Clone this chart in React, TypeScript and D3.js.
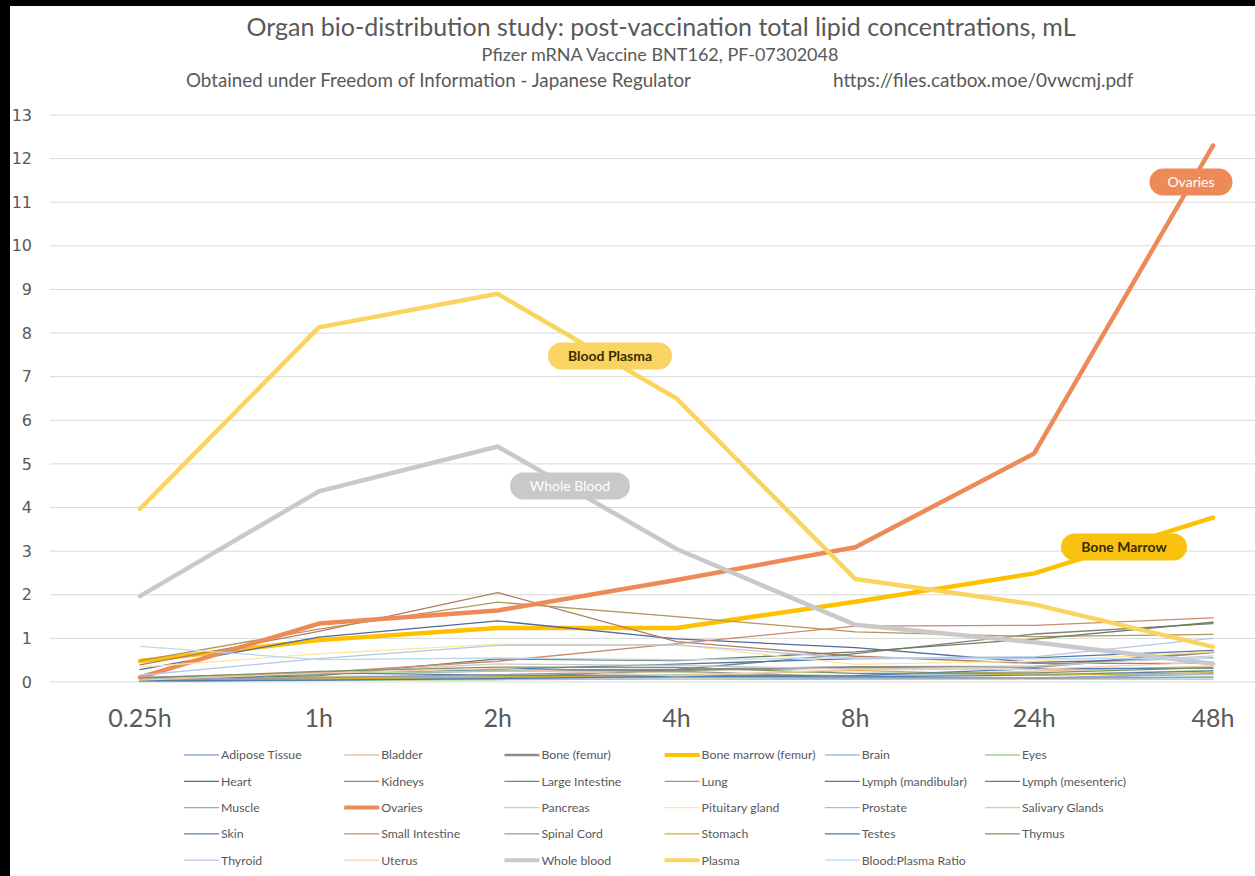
import React from 'react';
import * as d3 from 'd3';

const categories = ['0.25h', '1h', '2h', '4h', '8h', '24h', '48h'];

const adiposeTissue = [0.057, 0.1, 0.126, 0.128, 0.093, 0.084, 0.181];
const bladder = [0.041, 0.13, 0.146, 0.167, 0.148, 0.247, 0.365];
const boneFemur = [0.091, 0.195, 0.266, 0.276, 0.34, 0.342, 0.687];
const boneMarrow = [0.479, 0.96, 1.24, 1.24, 1.84, 2.49, 3.77];
const brain = [0.045, 0.1, 0.138, 0.115, 0.073, 0.069, 0.068];
const eyes = [0.01, 0.035, 0.052, 0.067, 0.059, 0.091, 0.112];
const heart = [0.282, 1.03, 1.4, 0.987, 0.79, 0.451, 0.546];
const kidneys = [0.391, 1.16, 2.05, 0.924, 0.59, 0.426, 0.425];
const largeIntestine = [0.013, 0.048, 0.093, 0.287, 0.649, 1.1, 1.34];
const lung = [0.492, 1.21, 1.83, 1.5, 1.15, 1.04, 1.09];
const lymphMandibular = [0.064, 0.189, 0.29, 0.408, 0.534, 0.554, 0.727];
const lymphMesenteric = [0.05, 0.146, 0.53, 0.489, 0.689, 0.985, 1.37];
const muscle = [0.021, 0.061, 0.084, 0.103, 0.096, 0.095, 0.192];
const ovaries = [0.104, 1.34, 1.64, 2.34, 3.09, 5.24, 12.3];
const pancreas = [0.081, 0.207, 0.414, 0.38, 0.294, 0.358, 0.599];
const pituitaryGland = [0.339, 0.645, 0.868, 0.854, 0.405, 0.478, 0.694];
const prostate = [0.061, 0.091, 0.128, 0.157, 0.15, 0.183, 0.17];
const salivaryGlands = [0.084, 0.193, 0.255, 0.22, 0.135, 0.17, 0.264];
const skin = [0.013, 0.208, 0.159, 0.145, 0.119, 0.157, 0.253];
const smallIntestine = [0.03, 0.221, 0.476, 0.879, 1.28, 1.3, 1.47];
const spinalCord = [0.043, 0.097, 0.169, 0.25, 0.106, 0.085, 0.112];
const stomach = [0.017, 0.065, 0.115, 0.144, 0.268, 0.152, 0.215];
const testes = [0.031, 0.042, 0.079, 0.129, 0.146, 0.304, 0.32];
const thymus = [0.088, 0.243, 0.34, 0.335, 0.196, 0.207, 0.331];
const thyroid = [0.155, 0.536, 0.842, 0.851, 0.544, 0.578, 1.0];
const uterus = [0.043, 0.203, 0.305, 0.14, 0.287, 0.289, 0.456];
const wholeBlood = [1.97, 4.37, 5.4, 3.05, 1.31, 0.909, 0.42];
const plasma = [3.97, 8.13, 8.9, 6.5, 2.36, 1.78, 0.805];
const bloodPlasmaRatio = [0.815, 0.515, 0.55, 0.51, 0.555, 0.53, 0.54];

const seriesNames = [
  'Adipose Tissue', 'Bladder', 'Bone (femur)', 'Bone marrow (femur)', 'Brain', 'Eyes',
  'Heart', 'Kidneys', 'Large Intestine', 'Lung', 'Lymph (mandibular)', 'Lymph (mesenteric)',
  'Muscle', 'Ovaries', 'Pancreas', 'Pituitary gland', 'Prostate', 'Salivary Glands',
  'Skin', 'Small Intestine', 'Spinal Cord', 'Stomach', 'Testes', 'Thymus',
  'Thyroid', 'Uterus', 'Whole blood', 'Plasma', 'Blood:Plasma Ratio',
];
const seriesValues = [
  adiposeTissue, bladder, boneFemur, boneMarrow, brain, eyes,
  heart, kidneys, largeIntestine, lung, lymphMandibular, lymphMesenteric,
  muscle, ovaries, pancreas, pituitaryGland, prostate, salivaryGlands,
  skin, smallIntestine, spinalCord, stomach, testes, thymus,
  thyroid, uterus, wholeBlood, plasma, bloodPlasmaRatio,
];
const yTicks = d3.range(0, 14);

const annotations = [
  { text: 'Ovaries', cx: 1191, cy: 182, w: 83, fill: '#EE8A58', color: '#ffffff', weight: 400 },
  { text: 'Blood Plasma', cx: 610, cy: 356, w: 124, fill: '#FAD463', color: '#3A2E00', weight: 700 },
  { text: 'Whole Blood', cx: 570, cy: 486, w: 120, fill: '#C9C9C9', color: '#ffffff', weight: 400 },
  { text: 'Bone Marrow', cx: 1124, cy: 547, w: 126, fill: '#F9C20F', color: '#3A2B00', weight: 700 },
];

const seriesColors = [
  '#8EA9DB', '#EBC39F', '#8C8C8C', '#FFC000', '#9DC3E6', '#A9D18E',
  '#52699A', '#B07D62', '#7F7F7F', '#B0985A', '#4F79A8', '#6B7F5A',
  '#8FAADC', '#EE8A58', '#C9C9C9', '#FFE699', '#9DC3E6', '#B9D8A4',
  '#5B7CB5', '#C98B6B', '#9A9A9A', '#D6AD2E', '#4B7DB0', '#7C9260',
  '#B4C7E7', '#F6CBAD', '#C9C9C9', '#F9D45E', '#BDD7EE',
];
const seriesWidths = [
  1.3, 1.3, 2.5, 4.5, 1.3, 1.3,
  1.3, 1.3, 1.3, 1.3, 1.3, 1.3,
  1.3, 4.5, 1.3, 1.3, 1.3, 1.3,
  1.3, 1.3, 1.3, 1.3, 1.3, 1.3,
  1.3, 1.3, 4.5, 4.5, 1.3,
];

export default function App() {
  const W = 1255;
  const H = 876;
  const x = d3.scalePoint<string>().domain(categories).range([140, 1213]);
  const y = d3.scaleLinear().domain([0, 13]).range([682, 115]);
  const line = d3
    .line<number>()
    .x((_, i) => x(categories[i]) as number)
    .y((d) => y(d));

  const legendCols = 6;
  const legendX0 = 221;
  const legendDX = 160.2;
  const legendY0 = 755;
  const legendDY = 26.3;
  const gray = '#595959';
  const font = 'Lato, "Open Sans", sans-serif';

  return (
    <svg
      width={W}
      height={H}
      style={{ position: 'absolute', left: 0, top: 0, display: 'block' }}
    >
      <rect x={0} y={0} width={W} height={H} fill="#000" />
      <rect x={10} y={6} width={W - 10} height={H - 6} fill="#fff" />

      <text x={661} y={36} textAnchor="middle" fontFamily={font} fontSize={25} fill={gray}>
        Organ bio-distribution study: post-vaccination total lipid concentrations, mL
      </text>
      <text x={660} y={61} textAnchor="middle" fontFamily={font} fontSize={18} fill={gray}>
        Pfizer mRNA Vaccine BNT162, PF-07302048
      </text>
      <text x={186} y={87} fontFamily={font} fontSize={18.8} fill={gray}>
        Obtained under Freedom of Information - Japanese Regulator
      </text>
      <text x={833} y={87} fontFamily={font} fontSize={19} fill={gray}>
        https://files.catbox.moe/0vwcmj.pdf
      </text>

      {yTicks.map((t) => (
        <g key={t}>
          <line x1={50} x2={W} y1={y(t)} y2={y(t)} stroke="#D9D9D9" strokeWidth={1} />
          <text
            x={32}
            y={y(t)}
            dy="0.35em"
            textAnchor="end"
            fontFamily='"DejaVu Sans", Verdana, sans-serif'
            fontSize={16}
            fill={gray}
          >
            {t}
          </text>
        </g>
      ))}

      {categories.map((c) => (
        <text
          key={c}
          x={x(c) as number}
          y={727}
          textAnchor="middle"
          fontFamily={font}
          fontSize={25}
          fill={gray}
        >
          {c}
        </text>
      ))}

      {seriesValues.map((vals, i) => (
        <path
          key={seriesNames[i]}
          d={line(vals) || ''}
          fill="none"
          stroke={seriesColors[i]}
          strokeWidth={seriesWidths[i]}
          strokeLinejoin="round"
          strokeLinecap="round"
        />
      ))}

      {annotations.map((a) => (
        <g key={a.text}>
          <rect
            x={a.cx - a.w / 2}
            y={a.cy - 13.5}
            width={a.w}
            height={27}
            rx={13.5}
            fill={a.fill}
          />
          <text
            x={a.cx}
            y={a.cy}
            dy="0.35em"
            textAnchor="middle"
            fontFamily={font}
            fontSize={14}
            fontWeight={a.weight}
            fill={a.color}
          >
            {a.text}
          </text>
        </g>
      ))}

      {seriesNames.map((name, i) => {
        const col = i % legendCols;
        const row = Math.floor(i / legendCols);
        const tx = legendX0 + col * legendDX;
        const ty = legendY0 + row * legendDY;
        return (
          <g key={name}>
            <line
              x1={tx - 37}
              x2={tx - 2}
              y1={ty}
              y2={ty}
              stroke={seriesColors[i]}
              strokeWidth={seriesWidths[i] > 2 ? Math.min(seriesWidths[i], 4) : 1.3}
            />
            <text x={tx} y={ty} dy="0.35em" fontFamily={font} fontSize={12.3} fill={gray}>
              {name}
            </text>
          </g>
        );
      })}
    </svg>
  );
}
